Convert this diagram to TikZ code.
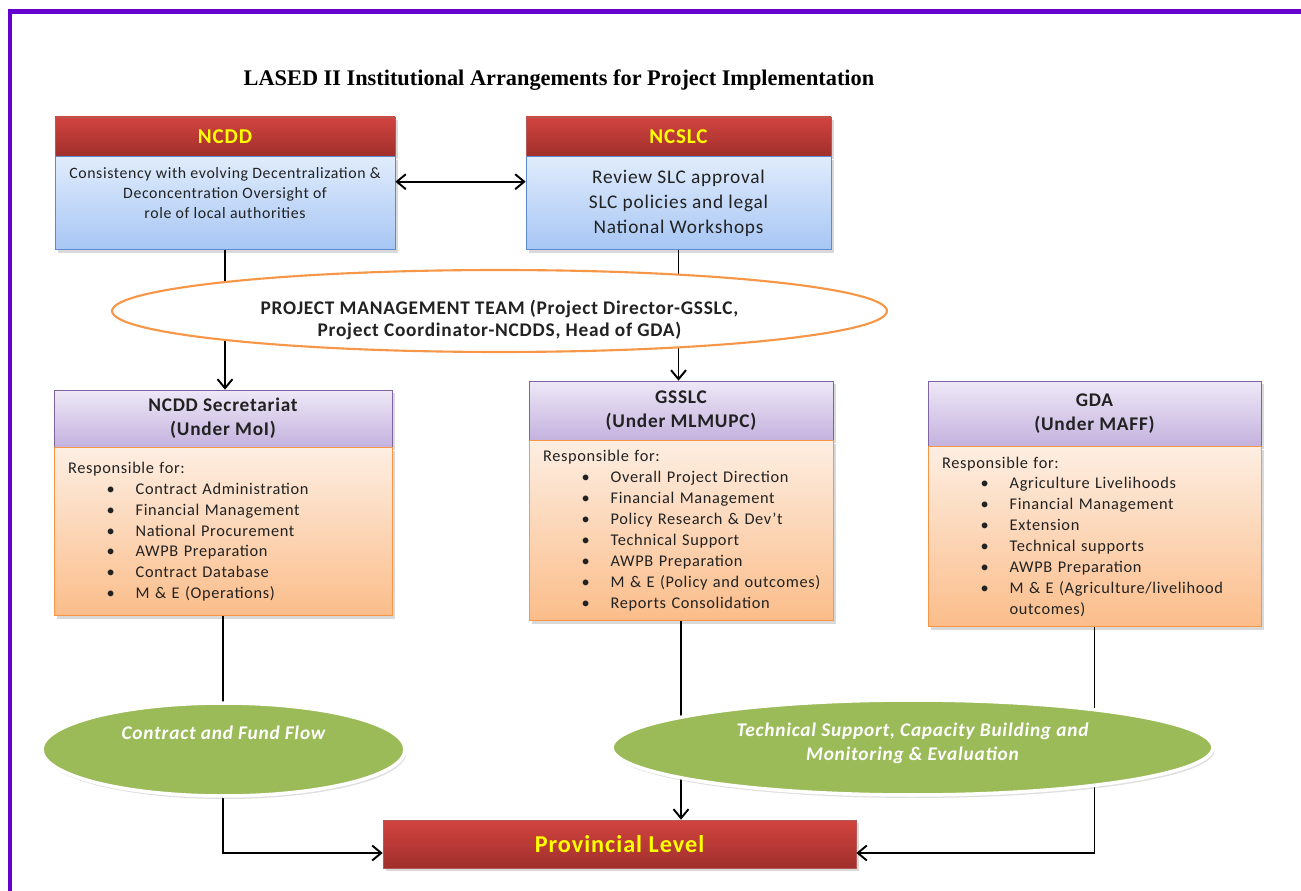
\documentclass[tikz,border=0pt]{standalone}
\usepackage{fontspec}
\setmainfont{Carlito}[LetterSpace=4]
\newfontfamily\titlefont{Liberation Serif}
\usepackage{tikz}
\usetikzlibrary{arrows.meta,positioning,shapes.geometric,shadows}
\definecolor{LFrame}{HTML}{6600CC}
\definecolor{LRedTop}{HTML}{D2443F}
\definecolor{LRedBot}{HTML}{A02F2C}
\definecolor{LBlueTop}{HTML}{E0ECFC}
\definecolor{LBlueBot}{HTML}{A7C6F4}
\definecolor{LBlueLine}{HTML}{5B8BD0}
\definecolor{LPurpTop}{HTML}{EEE8F7}
\definecolor{LPurpBot}{HTML}{C4B2DE}
\definecolor{LPurpLine}{HTML}{8064A2}
\definecolor{LOrTop}{HTML}{FDEEE2}
\definecolor{LOrBot}{HTML}{FBBD8A}
\definecolor{LOrLine}{HTML}{F79646}
\definecolor{LGreen}{HTML}{9BBB59}
\definecolor{LYellow}{HTML}{FFFF00}
\definecolor{LText}{HTML}{222222}
\newcommand{\bitem}[1]{\hspace*{22pt}\makebox[16.5pt][l]{\textbullet}\mbox{#1}}

\begin{document}
\begin{tikzpicture}[
  x=0.02cm,y=-0.02cm,
  shd/.style={drop shadow={opacity=0.3,shadow xshift=0.6mm,shadow yshift=-0.6mm}},
  hdr/.style={draw=LRedBot!80,top color=LRedTop,bottom color=LRedBot,text=LYellow,
    font=\bfseries\fontsize{12}{14}\selectfont,inner sep=0pt,shd},
  topbody/.style={draw=LBlueLine,top color=LBlueTop,bottom color=LBlueBot,text=LText,
    align=center,inner sep=0pt,shd},
  subhdr/.style={draw=LPurpLine,top color=LPurpTop,bottom color=LPurpBot,text=LText,
    align=center,font=\bfseries\fontsize{11}{13.6}\selectfont,inner sep=0pt,shd},
  duty/.style={draw=LOrLine,top color=LOrTop,bottom color=LOrBot,text=LText,
    align=left,font=\fontsize{9.3}{11.9}\selectfont,inner sep=0pt,shd},
  flow/.style={ellipse,draw=white,line width=2pt,fill=LGreen,inner sep=0pt,
    drop shadow={opacity=0.25,shadow xshift=0.3mm,shadow yshift=-0.6mm}},
  flowtxt/.style={text=white,align=center,font=\bfseries\itshape\fontsize{11}{13.6}\selectfont},
  a/.style={-{Straight Barb[length=1.8mm,width=3mm]},line width=1.1pt},
  aa/.style={{Straight Barb[length=1.8mm,width=3mm]}-{Straight Barb[length=1.8mm,width=3mm]},line width=1.1pt}
]
  \useasboundingbox (0,0) rectangle (1301,891);
  \draw[LFrame,line width=2.3pt] (10,891) -- (10,11.5) -- (1301,11.5);

  \node[font=\titlefont\bfseries\fontsize{12.7}{14}\selectfont] (title) at (559,80)
    {LASED II Institutional Arrangements for Project Implementation};

  % national level
  \node[hdr,minimum width=6.8cm,minimum height=0.78cm] (ncdd) at (225,136.5) {NCDD};
  \node[topbody,below=0pt of ncdd,minimum width=6.8cm,minimum height=1.86cm,
    font=\fontsize{9}{11.3}\selectfont] (ncddb)
    {Consistency with evolving Decentralization \&\\ Deconcentration Oversight of\\
     role of local authorities\\ \mbox{}};
  \node[hdr,minimum width=6.1cm,minimum height=0.78cm] (ncslc) at (678.5,136.5) {NCSLC};
  \node[topbody,below=0pt of ncslc,minimum width=6.1cm,minimum height=1.86cm,
    font=\fontsize{11}{14.2}\selectfont] (ncslcb)
    {Review SLC approval\\ SLC policies and legal\\ National Workshops};

  % implementing agencies
  \node[subhdr,minimum width=6.76cm,minimum height=1.14cm] (sech) at (223,418.5)
    {NCDD Secretariat\\ (Under MoI)};
  \node[duty,below=0pt of sech,minimum width=6.76cm,minimum height=3.36cm,
    text width=6.2cm] (secb)
    {Responsible for:\\ \bitem{Contract Administration}\\ \bitem{Financial Management}\\
     \bitem{National Procurement}\\ \bitem{AWPB Preparation}\\
     \bitem{Contract Database}\\ \bitem{M \& E (Operations)}};
  \node[subhdr,minimum width=6.08cm,minimum height=1.18cm] (gsh) at (681,410.5)
    {GSSLC\\ (Under MLMUPC)};
  \node[duty,below=0pt of gsh,minimum width=6.08cm,minimum height=3.6cm,
    text width=5.52cm] (gsb)
    {Responsible for:\\ \bitem{Overall Project Direction}\\ \bitem{Financial Management}\\
     \bitem{Policy Research \& Dev't}\\ \bitem{Technical Support}\\
     \bitem{AWPB Preparation}\\ \bitem{M \& E (Policy and outcomes)}\\
     \bitem{Reports Consolidation}};
  \node[subhdr,minimum width=6.66cm,minimum height=1.3cm] (gdah) at (1094.5,413.5)
    {GDA\\ (Under MAFF)};
  \node[duty,below=0pt of gdah,minimum width=6.66cm,minimum height=3.6cm,
    text width=6.1cm] (gdab)
    {Responsible for:\\ \bitem{Agriculture Livelihoods}\\ \bitem{Financial Management}\\
     \bitem{Extension}\\ \bitem{Technical supports}\\ \bitem{AWPB Preparation}\\
     \bitem{M \& E (Agriculture/livelihood}\\ \hspace*{38.5pt}outcomes)};

  \node[hdr,minimum width=9.46cm,minimum height=0.96cm,
    font=\bfseries\fontsize{13.8}{15}\selectfont] (prov) at (619.5,844) {Provincial Level};

  % connectors (ellipses are drawn over them)
  \draw[aa] ([yshift=0.43cm]ncddb.east) -- ([yshift=0.43cm]ncslcb.west);
  \draw[a] (ncddb.south) -- (ncddb.south |- sech.north);
  \draw[a] (ncslcb.south) -- (ncslcb.south |- gsh.north);
  \draw[a] (secb.south) |- ([yshift=-0.18cm]prov.west);
  \draw[a] (gsb.south) -- (gsb.south |- prov.north);
  \draw[a] (gdab.south) |- ([yshift=-0.18cm]prov.east);

  \node[ellipse,draw=LOrLine,line width=1.2pt,fill=white,inner sep=0pt,
    minimum width=15.5cm,minimum height=1.64cm] (pmt) at (499.5,311) {};
  \node[font=\bfseries\fontsize{11}{13}\selectfont,text=LText,align=center]
    (pmtt) at (499.5,320)
    {PROJECT MANAGEMENT TEAM (Project Director-GSSLC,\\
     Project Coordinator-NCDDS, Head of GDA)};

  \node[flow,minimum width=7.26cm,minimum height=1.86cm] (fund) at (223.5,749.5) {};
  \node[flowtxt] (fundt) at (223.5,733) {Contract and Fund Flow};
  \node[flow,minimum width=12.02cm,minimum height=1.9cm] (tech) at (912.5,747.5) {};
  \node[flowtxt] (techt) at (912.5,743)
    {Technical Support, Capacity Building and\\ Monitoring \& Evaluation};
\end{tikzpicture}
\end{document}
